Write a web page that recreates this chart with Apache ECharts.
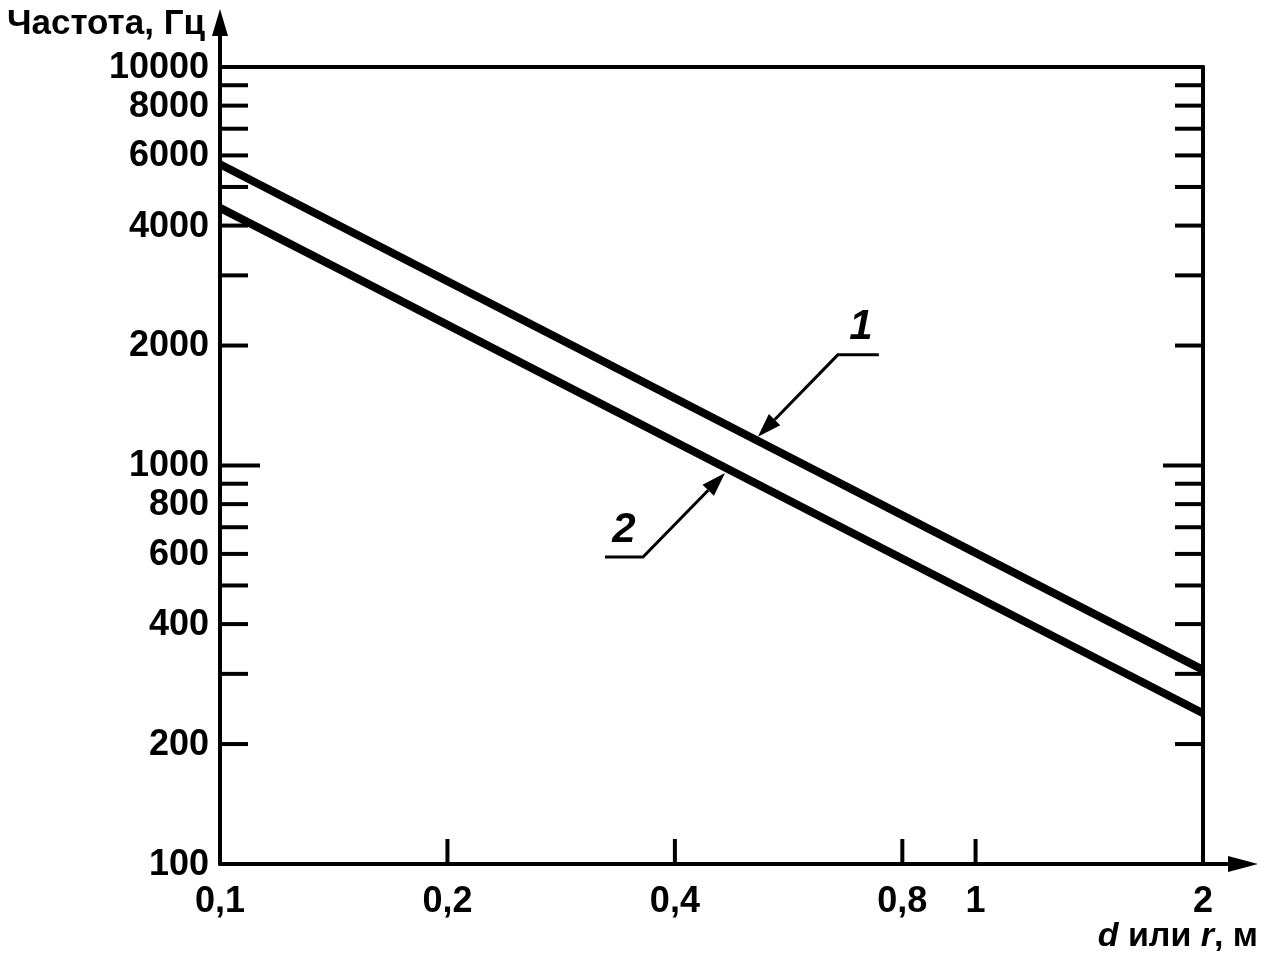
<!DOCTYPE html>
<html>
<head>
<meta charset="utf-8">
<script src="https://cdn.jsdelivr.net/npm/echarts@6/dist/echarts.min.js"></script>
<style>
html,body{margin:0;padding:0;background:#fff;}
#chart{width:1264px;height:956px;}
</style>
</head>
<body>
<div id="chart"></div>
<script>
// ---- data ----
var line1X = [0.1, 2];
var line1Y = [5700, 307];
var line2X = [0.1, 2];
var line2Y = [4430, 239];

var yLabelValues = [100, 200, 400, 600, 800, 1000, 2000, 4000, 6000, 8000, 10000];
var yLabelTexts = ['100', '200', '400', '600', '800', '1000', '2000', '4000', '6000', '8000', '10000'];
var yTickValues = [200, 300, 400, 500, 600, 700, 800, 900, 1000, 2000, 3000, 4000, 5000, 6000, 7000, 8000, 9000];
var yMajorTicks = [1000];

var xLabelValues = [0.1, 0.2, 0.4, 0.8, 1, 2];
var xLabelTexts = ['0,1', '0,2', '0,4', '0,8', '1', '2'];
var xTickValues = [0.2, 0.4, 0.8, 1];

var annotations = [
  { text: '1', tip: [0.515, 1180], dir: 1 },
  { text: '2', tip: [0.466, 957], dir: -1 }
];

var X_MIN = 0.1, X_MAX = 2, Y_MIN = 100, Y_MAX = 10000;
var FONT = '"Liberation Sans", Arial, sans-serif';

var chart = echarts.init(document.getElementById('chart'), null, { renderer: 'canvas' });

function pairs(xs, ys) { return xs.map(function (x, i) { return [x, ys[i]]; }); }

var yTickData = [];
yTickValues.forEach(function (v) {
  yTickData.push([X_MIN, v, 'L']);
  yTickData.push([X_MAX, v, 'R']);
});

var option = {
  animation: false,
  backgroundColor: '#fff',
  grid: { left: 220, right: 61, top: 67, bottom: 92, containLabel: false },
  xAxis: [
    { type: 'log', logBase: 10, min: X_MIN, max: X_MAX,
      axisLine: { show: true, lineStyle: { color: '#000', width: 4 } },
      axisTick: { show: false }, axisLabel: { show: false }, splitLine: { show: false } },
    { type: 'value', position: 'top', min: 0, max: 1,
      axisLine: { show: true, onZero: false, lineStyle: { color: '#000', width: 4 } },
      axisTick: { show: false }, axisLabel: { show: false }, splitLine: { show: false } }
  ],
  yAxis: [
    { type: 'log', logBase: 10, min: Y_MIN, max: Y_MAX,
      axisLine: { show: true, lineStyle: { color: '#000', width: 4 } },
      axisTick: { show: false }, axisLabel: { show: false }, splitLine: { show: false } },
    { type: 'value', position: 'right', min: 0, max: 1,
      axisLine: { show: true, onZero: false, lineStyle: { color: '#000', width: 4 } },
      axisTick: { show: false }, axisLabel: { show: false }, splitLine: { show: false } }
  ],
  series: [
    { type: 'line', name: '1', data: pairs(line1X, line1Y), showSymbol: false, symbol: 'none',
      lineStyle: { color: '#000', width: 8 }, z: 5 },
    { type: 'line', name: '2', data: pairs(line2X, line2Y), showSymbol: false, symbol: 'none',
      lineStyle: { color: '#000', width: 8 }, z: 5 },
    // y ticks (left & right, inside)
    { type: 'custom', clip: false, z: 6, data: yTickData,
      renderItem: function (params, api) {
        var v = api.value(1), side = yTickData[params.dataIndex][2];
        var p = api.coord([api.value(0), v]);
        var len = yMajorTicks.indexOf(v) >= 0 ? 40 : 28;
        var x2 = side === 'L' ? p[0] + len : p[0] - len;
        return { type: 'line', shape: { x1: p[0], y1: p[1], x2: x2, y2: p[1] },
          style: { stroke: '#000', lineWidth: 4 } };
      } },
    // y labels
    { type: 'custom', clip: false, z: 6,
      data: yLabelValues.map(function (v, i) { return [X_MIN, v, i]; }),
      renderItem: function (params, api) {
        var p = api.coord([api.value(0), api.value(1)]);
        return { type: 'text', x: p[0] - 11, y: p[1] + 1,
          style: { text: yLabelTexts[params.dataIndex], font: 'bold 36px ' + FONT,
            fill: '#000', align: 'right', verticalAlign: 'middle' } };
      } },
    // x ticks
    { type: 'custom', clip: false, z: 6,
      data: xTickValues.map(function (v) { return [v, Y_MIN]; }),
      renderItem: function (params, api) {
        var p = api.coord([api.value(0), api.value(1)]);
        return { type: 'line', shape: { x1: p[0], y1: p[1], x2: p[0], y2: p[1] - 25 },
          style: { stroke: '#000', lineWidth: 4 } };
      } },
    // x labels
    { type: 'custom', clip: false, z: 6,
      data: xLabelValues.map(function (v) { return [v, Y_MIN]; }),
      renderItem: function (params, api) {
        var p = api.coord([api.value(0), api.value(1)]);
        return { type: 'text', x: p[0], y: p[1] + 38,
          style: { text: xLabelTexts[params.dataIndex], font: 'bold 36px ' + FONT,
            fill: '#000', align: 'center', verticalAlign: 'middle' } };
      } },
    // annotations
    { type: 'custom', clip: false, z: 7,
      data: annotations.map(function (a) { return [a.tip[0], a.tip[1]]; }),
      renderItem: function (params, api) {
        var a = annotations[params.dataIndex];
        var t = api.coord([api.value(0), api.value(1)]);
        var elbow, uEnd, txt;
        if (a.dir > 0) {
          elbow = [t[0] + 80, t[1] - 82];
          uEnd = [elbow[0] + 41, elbow[1]];
          txt = [elbow[0] + 23, elbow[1] - 6];
        } else {
          elbow = [t[0] - 82, t[1] + 84];
          uEnd = [elbow[0] - 38, elbow[1]];
          txt = [elbow[0] - 19, elbow[1] - 6];
        }
        var dx = t[0] - elbow[0], dy = t[1] - elbow[1];
        var L = Math.sqrt(dx * dx + dy * dy), ux = dx / L, uy = dy / L;
        var hl = 24, hw = 8;
        var bx = t[0] - ux * hl, by = t[1] - uy * hl;
        return { type: 'group', children: [
          { type: 'polyline', shape: { points: [uEnd, elbow, [bx, by]] },
            style: { stroke: '#000', lineWidth: 3, fill: null } },
          { type: 'polygon', shape: { points: [t, [bx - uy * hw, by + ux * hw], [bx + uy * hw, by - ux * hw]] },
            style: { fill: '#000' } },
          { type: 'text', x: txt[0], y: txt[1],
            style: { text: a.text, font: 'italic bold 42px ' + FONT, fill: '#000',
              align: 'center', verticalAlign: 'bottom' } }
        ] };
      } }
  ],
  graphic: [
    // y arrow
    { type: 'line', shape: { x1: 220, y1: 67, x2: 220, y2: 30 }, style: { stroke: '#000', lineWidth: 4 } },
    { type: 'polygon', shape: { points: [[220, 9], [212, 36], [228, 36]] }, style: { fill: '#000' } },
    // x arrow
    { type: 'line', shape: { x1: 1203, y1: 864, x2: 1235, y2: 864 }, style: { stroke: '#000', lineWidth: 4 } },
    { type: 'polygon', shape: { points: [[1258, 864], [1228, 856], [1228, 872]] }, style: { fill: '#000' } },
    { type: 'text', x: 205, y: 24,
      style: { text: 'Частота, Гц', font: 'bold 35px ' + FONT, fill: '#000', align: 'right', verticalAlign: 'middle' } },
    { type: 'text', x: 1258, y: 937,
      style: { rich: {
          i: { font: 'italic bold 34px ' + FONT, fill: '#000' },
          n: { font: 'bold 34px ' + FONT, fill: '#000' }
        },
        text: '{i|d}{n| или }{i|r}{n|, м}', align: 'right', verticalAlign: 'middle' } }
  ]
};
chart.setOption(option);
</script>
</body>
</html>
